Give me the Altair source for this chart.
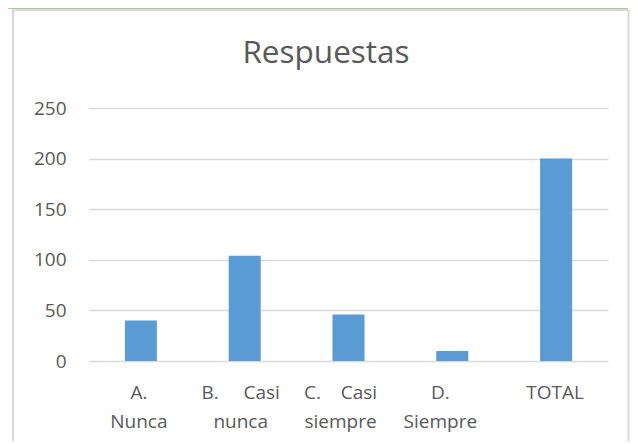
import altair as alt
import pandas as pd

categories = ["A. Nunca", "B. Casi nunca", "C. Casi siempre", "D. Siempre", "TOTAL"]
values = [40, 104, 46, 10, 200]
title_text = "Respuestas"

df = pd.DataFrame({"cat": categories, "val": values})

FONT = "Open Sans"
GREY_TXT = "#595959"

label_expr = (
    "datum.value == 'A. Nunca' ? ['A.', 'Nunca'] : "
    "datum.value == 'B. Casi nunca' ? ['B.\u00a0\u00a0\u00a0\u00a0\u00a0Casi', 'nunca'] : "
    "datum.value == 'C. Casi siempre' ? ['C.\u00a0\u00a0\u00a0\u00a0Casi', 'siempre'] : "
    "datum.value == 'D. Siempre' ? ['D.', 'Siempre'] : datum.value"
)
offset_expr = (
    "datum.value == 'A. Nunca' ? -2 : "
    "datum.value == 'B. Casi nunca' ? -4 : "
    "datum.value == 'C. Casi siempre' ? -8 : "
    "datum.value == 'D. Siempre' ? -12 : -1"
)

bars = alt.Chart(df).mark_bar(size=32, color="#5b9bd5").encode(
    x=alt.X("cat:N", sort=categories,
            scale=alt.Scale(paddingInner=0, paddingOuter=0),
            axis=alt.Axis(title=None, labelAngle=0, labelExpr=label_expr,
                          labelOffset=alt.ExprRef(offset_expr),
                          labelFont=FONT, labelFontSize=19, labelColor=GREY_TXT,
                          labelLineHeight=29, labelPadding=22, ticks=False,
                          domain=False, grid=False, labelBaseline="top")),
    y=alt.Y("val:Q", scale=alt.Scale(domain=[0, 250]),
            axis=alt.Axis(title=None, values=[0, 50, 100, 150, 200, 250],
                          labelFont=FONT, labelFontSize=19, labelColor=GREY_TXT,
                          labelPadding=23, ticks=False, domain=False,
                          grid=True, gridColor="#d9d9d9", gridWidth=1.5)),
)

deco = alt.Data(values=[{"k": 1}])

box = alt.Chart(deco).mark_rect(fillOpacity=0, stroke="#d9d9d9", strokeWidth=2).encode(
    x=alt.value(-76), x2=alt.value(539.5), y=alt.value(-98), y2=alt.value(360)
)
green = alt.Chart(deco).mark_rule(color="#a9d18e", strokeWidth=2).encode(
    x=alt.value(-81), x2=alt.value(539), y=alt.value(-100)
)
title = alt.Chart(deco).mark_text(
    text=title_text, font=FONT, fontSize=31.5, color=GREY_TXT,
    align="center", baseline="alphabetic"
).encode(x=alt.value(237), y=alt.value(-45))

chart = alt.layer(box, green, title, bars).properties(
    width=519, height=253,
    background="white",
    autosize=alt.AutoSizeParams(type="none"),
    padding={"left": 81, "top": 100, "right": 22, "bottom": 80},
).configure_view(strokeWidth=0, stroke=None)

chart.save("out.html", embed_options={"renderer": "svg", "actions": False})
